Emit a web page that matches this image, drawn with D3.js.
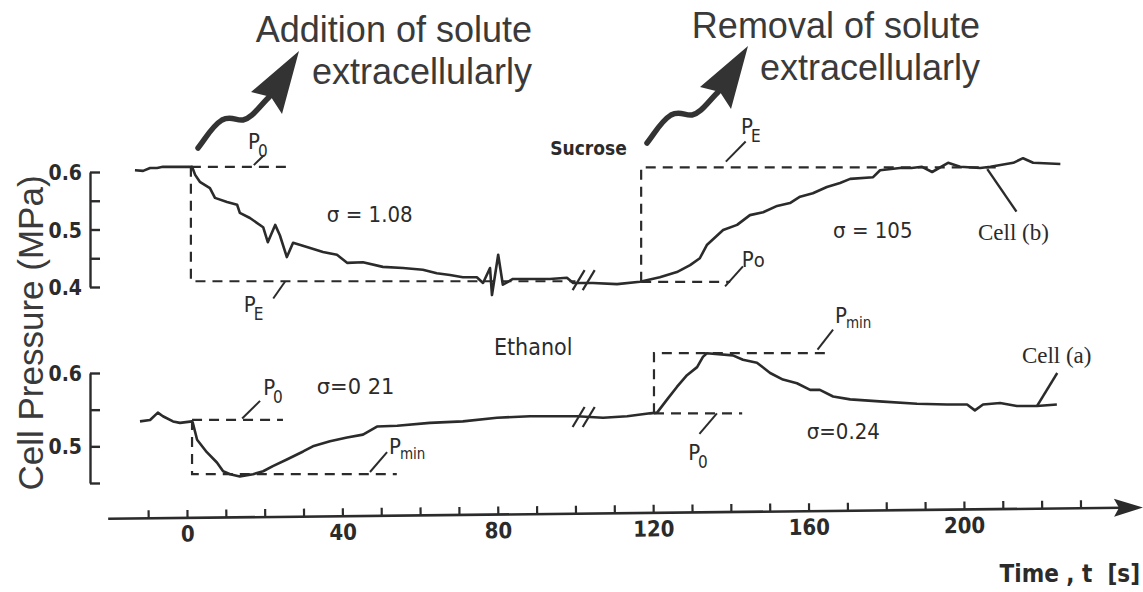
<!DOCTYPE html>
<html><head><meta charset="utf-8">
<script src="https://cdn.jsdelivr.net/npm/d3@7"></script>
<style>
body{margin:0;background:#fff;}
svg{display:block;}
</style></head><body>
<svg id="chart" width="1143" height="592"></svg>
<script>
// ---------- tick values / labels ----------
const xTicks = d3.range(-10, 231, 10);
const xTickLabels = [0, 40, 80, 120, 160, 200];
const upperTicks = [0.4, 0.45, 0.5, 0.55, 0.6];
const upperTickLabels = [0.4, 0.5, 0.6];
const lowerTicks = [0.45, 0.5, 0.55, 0.6];
const lowerTickLabels = [0.5, 0.6];

// ---------- Cell (b): sucrose (upper trace) ----------
const cellBTime = [-13.4,-11.3,-9.5,-7.7,-6.2,1.3,2.1,3.3,5.9,7.2,10.3,12.9,13.6,16.2,19.6,20.8,22.7,23.9,25.7,27.3,31.7,35.0,38.6,41.2,45.3,50.4,55.6,60.7,64.3,67.7,71.0,74.6,76.2,78.0,78.5,80.1,81.3,83.9,88.3,93.4,97.8,99.4,104.5,110.7,116.6,121.7,126.1,129.5,132.0,133.8,138.0,141.6,144.9,148.3,151.9,155.2,157.8,161.1,164.7,168.1,170.7,176.6,178.4,183.5,186.5,189.2,191.8,195.9,199.0,204.2,206.8,212.7,215.2,217.8,224.8];
const cellBPressure = [0.603,0.602,0.607,0.607,0.609,0.609,0.595,0.583,0.572,0.555,0.548,0.543,0.529,0.520,0.504,0.478,0.508,0.490,0.452,0.477,0.468,0.461,0.456,0.442,0.443,0.435,0.433,0.430,0.424,0.421,0.417,0.417,0.407,0.433,0.386,0.456,0.404,0.414,0.414,0.414,0.416,0.407,0.407,0.405,0.409,0.417,0.426,0.438,0.450,0.473,0.499,0.508,0.525,0.530,0.541,0.546,0.557,0.563,0.574,0.581,0.588,0.591,0.603,0.607,0.607,0.609,0.600,0.616,0.609,0.607,0.609,0.616,0.624,0.616,0.614];

// ---------- Cell (a): ethanol (lower trace) ----------
const cellATime = [-12.1,-9.5,-7.5,-6.2,-3.6,-1.8,1.3,1.5,2.6,5.1,7.7,9.3,11.1,13.6,17.0,19.6,22.1,25.7,29.9,32.4,36.8,41.2,45.3,48.9,54.1,62.5,71.0,79.8,88.3,96.8,100.4,107.1,113.3,119.2,121.0,123.6,126.1,128.7,131.3,132.8,133.8,140.5,143.1,146.7,150.1,153.4,157.0,160.4,162.9,166.3,170.7,179.2,187.9,195.6,200.8,202.8,204.9,209.3,213.6,218.8,223.9];
const cellAPressure = [0.534,0.536,0.546,0.541,0.534,0.532,0.534,0.532,0.509,0.492,0.478,0.466,0.462,0.459,0.462,0.466,0.473,0.482,0.493,0.500,0.507,0.512,0.516,0.527,0.528,0.532,0.534,0.539,0.541,0.541,0.541,0.539,0.541,0.545,0.546,0.564,0.581,0.597,0.608,0.622,0.627,0.624,0.618,0.614,0.600,0.591,0.586,0.577,0.577,0.568,0.564,0.561,0.558,0.557,0.557,0.549,0.557,0.559,0.555,0.555,0.557];

// ---------- reference (dashed) levels ----------
const upperP0 = 0.609, upperPE = 0.410;      // addition of sucrose
const upperP0b = 0.409, upperPEb = 0.608;    // removal of sucrose
const lowerP0 = 0.536, lowerPmin = 0.462;    // addition of ethanol
const lowerP0b = 0.545, lowerPminb = 0.627;  // removal of ethanol
const stepTimes = {addB: 1.0, remB: 116.9, addA: 1.3, remA: 120.2};
const breakTimes = [100.8, 103.4];

// ---------- scales ----------
const svg = d3.select('#chart');
const x = d3.scaleLinear().domain([0, 200]).range([187, 964]);
const yU = d3.scaleLinear().domain([0.4, 0.6]).range([287, 172]);
const yL = d3.scaleLinear().domain([0.45, 0.6]).range([483, 373]);

const INK = '#2b2b2b';
const condensed = '"DejaVu Sans Condensed", "DejaVu Sans", sans-serif';
const dv = '"DejaVu Sans", sans-serif';
const serif = '"Liberation Serif", "Times New Roman", serif';
const sans = '"Liberation Sans", Arial, sans-serif';

// ---------- y axes ----------
function yAxis(scale, ticks, labels) {
  const g = svg.append('g').attr('transform', 'translate(90,0)')
    .call(d3.axisLeft(scale).tickValues(ticks).tickSizeInner(-10).tickSizeOuter(0).tickPadding(8)
      .tickFormat(d => labels.some(l => Math.abs(l - d) < 1e-9) ? d3.format('.1f')(d) : ''));
  g.select('.domain').attr('stroke', INK).attr('stroke-width', 2.4);
  g.selectAll('.tick line').attr('stroke', INK).attr('stroke-width', 2.4);
  g.selectAll('.tick text').attr('fill', INK).attr('font-family', condensed)
    .attr('font-weight', 'bold').attr('font-size', 21).attr('dy', '0.36em');
}
yAxis(yU, upperTicks, upperTickLabels);
yAxis(yL, lowerTicks, lowerTickLabels);

svg.append('text').attr('transform', 'translate(43,333) rotate(-90)')
  .attr('text-anchor', 'middle').attr('font-family', sans)
  .attr('font-size', 35).attr('fill', '#3a3a3a').text('Cell Pressure (MPa)');

// ---------- x axis (slightly tilted as in the scan) ----------
const xg = svg.append('g').attr('transform', 'rotate(-0.62,640,513)');
const xa = xg.append('g').attr('transform', 'translate(0,513)')
  .call(d3.axisBottom(x).tickValues(xTicks).tickSizeInner(-8).tickSizeOuter(0).tickPadding(8)
    .tickFormat(d => xTickLabels.includes(d) ? d : ''));
xa.select('.domain').remove();
xa.selectAll('.tick line').attr('stroke', INK).attr('stroke-width', 2.2);
xa.selectAll('.tick text').attr('fill', INK).attr('font-family', condensed)
  .attr('font-size', 22).attr('font-weight', 'bold');
xg.append('line').attr('x1', x(-20.3)).attr('x2', 1122).attr('y1', 513).attr('y2', 513)
  .attr('stroke', INK).attr('stroke-width', 2.6);
xg.append('path').attr('d', 'M1143,513 L1114,504 L1119,513 L1114,522 Z').attr('fill', INK);

svg.append('text').attr('x', 1140).attr('y', 582).attr('text-anchor', 'end')
  .attr('font-family', condensed).attr('font-weight', 'bold').attr('font-size', 24)
  .attr('fill', INK).attr('xml:space', 'preserve').text('Time , t  [s]');

// ---------- traces ----------
const cellB = cellBTime.map((t, i) => [t, cellBPressure[i]]);
const cellA = cellATime.map((t, i) => [t, cellAPressure[i]]);
svg.append('path').datum(cellB)
  .attr('d', d3.line().x(d => x(d[0])).y(d => yU(d[1])))
  .attr('fill', 'none').attr('stroke', INK).attr('stroke-width', 2.6).attr('stroke-linejoin', 'round');
svg.append('path').datum(cellA)
  .attr('d', d3.line().x(d => x(d[0])).y(d => yL(d[1])))
  .attr('fill', 'none').attr('stroke', INK).attr('stroke-width', 2.6).attr('stroke-linejoin', 'round');

// break marks
function breakMarks(yScale, level) {
  breakTimes.forEach(t => {
    svg.append('line').attr('x1', x(t) - 6).attr('y1', yScale(level) + 10)
      .attr('x2', x(t) + 6).attr('y2', yScale(level) - 10)
      .attr('stroke', INK).attr('stroke-width', 2.2);
  });
}
breakMarks(yU, 0.412);
breakMarks(yL, 0.540);

// ---------- dashed reference lines ----------
const dash = (pts, ys) => svg.append('path')
  .attr('d', d3.line().x(d => x(d[0])).y(d => ys(d[1]))(pts))
  .attr('fill', 'none').attr('stroke', INK).attr('stroke-width', 2.2).attr('stroke-dasharray', '10,7');
dash([[stepTimes.addB, upperP0], [25.7, upperP0]], yU);
dash([[stepTimes.addB, upperP0], [stepTimes.addB, upperPE], [100, upperPE]], yU);
dash([[stepTimes.remB, upperP0b], [stepTimes.remB, upperPEb], [209, upperPEb]], yU);
dash([[stepTimes.remB, upperP0b], [139.8, upperP0b]], yU);
dash([[stepTimes.addA, lowerP0], [24.7, lowerP0]], yL);
dash([[stepTimes.addA, lowerP0], [stepTimes.addA, lowerPmin], [54, lowerPmin]], yL);
dash([[stepTimes.remA, lowerP0b], [stepTimes.remA, lowerPminb], [164.7, lowerPminb]], yL);
dash([[stepTimes.remA, lowerP0b], [142.9, lowerP0b]], yL);

// ---------- P labels with pointer lines ----------
function pLabel(ys, t1, v1, t2, v2, sub, tx, tv, dxSub, inline) {
  svg.append('line').attr('x1', x(t1)).attr('y1', ys(v1)).attr('x2', x(t2)).attr('y2', ys(v2))
    .attr('stroke', INK).attr('stroke-width', 2);
  const tt = svg.append('text').attr('x', x(tx)).attr('y', ys(tv))
    .attr('font-family', condensed).attr('fill', INK).attr('font-size', 22).text('P');
  if (inline) { tt.append('tspan').attr('font-size', 20).attr('dx', 0).text(sub); return; }
  tt.append('tspan').attr('font-size', sub === 'min' ? 15 : 17).attr('dy', sub === 'min' ? 5 : 8)
    .attr('dx', dxSub).text(sub);
}
pLabel(yU, 17.2, 0.612, 19.8, 0.629, '0', 15.7, 0.640, -2);
pLabel(yU, 25.3, 0.410, 22.2, 0.380, 'E', 14.6, 0.357, -2);
pLabel(yU, 138.7, 0.618, 143.8, 0.653, 'E', 142.6, 0.666, -2);
pLabel(yU, 138.5, 0.401, 143.1, 0.436, 'o', 142.8, 0.435, 0, true);
pLabel(yL, 14.2, 0.538, 18.8, 0.562, '0', 19.6, 0.570, -2);
pLabel(yL, 47.1, 0.465, 51.5, 0.492, 'min', 52.0, 0.490, -1);
pLabel(yL, 162.3, 0.632, 166.3, 0.659, 'min', 166.8, 0.668, -1);
pLabel(yL, 136.4, 0.545, 131.9, 0.517, '0', 129.0, 0.482, -2);

// ---------- sigma labels and notes ----------
const note = (tx, ty, s, fam, size, weight) => svg.append('text').attr('x', tx).attr('y', ty)
  .attr('font-family', fam).attr('font-size', size).attr('font-weight', weight || 'normal')
  .attr('fill', INK).attr('xml:space', 'preserve').text(s);
note(x(36.0), yU(0.513), 'σ = 1.08', condensed, 22);
note(x(166.3), yU(0.485), 'σ = 105', condensed, 22);
note(x(33.4), yL(0.572), 'σ=0 21', dv, 21);
note(x(159.5), yL(0.510), 'σ=0.24', condensed, 22);
note(x(79.0), yL(0.625), 'Ethanol', condensed, 23);
note(x(93.5), yU(0.630), 'Sucrose', condensed, 19, 'bold');

svg.append('line').attr('x1', x(206)).attr('y1', yU(0.605)).attr('x2', x(213.5)).attr('y2', yU(0.531))
  .attr('stroke', INK).attr('stroke-width', 2.4);
note(x(203.6), yU(0.482), 'Cell (b)', serif, 23);
svg.append('line').attr('x1', x(218.8)).attr('y1', yL(0.555)).attr('x2', x(224.0)).attr('y2', yL(0.600))
  .attr('stroke', INK).attr('stroke-width', 2.4);
note(x(214.9), yL(0.6136), 'Cell (a)', serif, 23);

// ---------- big curly arrows and captions ----------
function caption(xr, y1, y2, l1, l2) {
  svg.append('text').attr('x', xr).attr('y', y1).attr('text-anchor', 'end').attr('font-family', sans)
    .attr('font-size', 36).attr('fill', '#3a3a3a').text(l1);
  svg.append('text').attr('x', xr).attr('y', y2).attr('text-anchor', 'end').attr('font-family', sans)
    .attr('font-size', 36).attr('fill', '#3a3a3a').text(l2);
}
caption(532, 42, 84, 'Addition of solute', 'extracellularly');
caption(980, 38, 80, 'Removal of solute', 'extracellularly');

function curlyArrow(dx, dy) {
  const g = svg.append('g').attr('transform', `translate(${dx},${dy})`);
  g.append('path').attr('d', 'M0,0 C8,-10 14,-22 24,-28 C33,-33 38,-27 45,-28 C54,-30 60,-40 72,-52')
    .attr('fill', 'none').attr('stroke', '#333').attr('stroke-width', 5.5).attr('stroke-linecap', 'round');
  g.append('path').attr('d', 'M101,-97 L53,-56 L73,-51 L84,-34 Z').attr('fill', '#333');
}
curlyArrow(198, 148);
curlyArrow(647, 143);
</script>
</body></html>
